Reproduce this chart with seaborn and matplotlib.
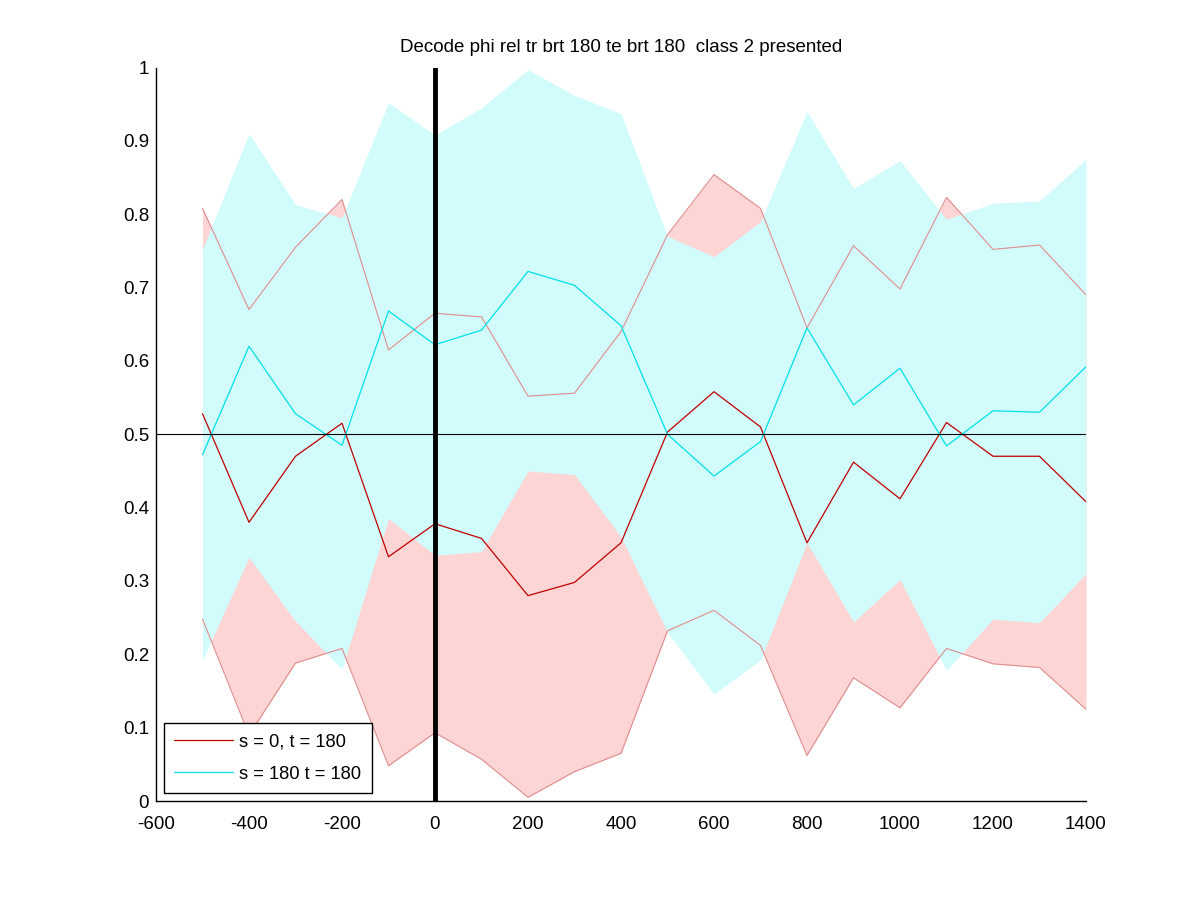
import numpy as np
import pandas as pd
import seaborn as sns
import matplotlib.pyplot as plt

# time points (ms)
times = [-500, -400, -300, -200, -100, 0, 100, 200, 300, 400,
         500, 600, 700, 800, 900, 1000, 1100, 1200, 1300, 1400]

# s = 0, t = 180
red_mean = [0.528, 0.380, 0.470, 0.515, 0.333, 0.378, 0.358, 0.280, 0.298, 0.352,
            0.503, 0.558, 0.510, 0.352, 0.462, 0.412, 0.516, 0.470, 0.470, 0.408]
red_upper = [0.808, 0.670, 0.755, 0.820, 0.615, 0.665, 0.660, 0.552, 0.556, 0.640,
             0.772, 0.854, 0.808, 0.645, 0.757, 0.698, 0.823, 0.752, 0.758, 0.690]
red_lower = [0.248, 0.090, 0.188, 0.208, 0.048, 0.093, 0.057, 0.005, 0.040, 0.065,
             0.232, 0.260, 0.212, 0.062, 0.168, 0.127, 0.208, 0.187, 0.182, 0.125]

# s = 180 t = 180
cyan_mean = [0.472, 0.620, 0.528, 0.485, 0.668, 0.622, 0.642, 0.722, 0.703, 0.648,
             0.500, 0.443, 0.490, 0.645, 0.540, 0.590, 0.484, 0.532, 0.530, 0.592]
cyan_upper = [0.752, 0.910, 0.813, 0.795, 0.952, 0.908, 0.945, 0.997, 0.962, 0.937,
              0.770, 0.742, 0.790, 0.940, 0.835, 0.873, 0.793, 0.815, 0.818, 0.875]
cyan_lower = [0.192, 0.332, 0.245, 0.180, 0.385, 0.335, 0.340, 0.450, 0.445, 0.360,
              0.230, 0.146, 0.192, 0.352, 0.244, 0.302, 0.178, 0.248, 0.243, 0.310]

labels = ['s = 0, t = 180', 's = 180 t = 180']

sns.set_style("white")
plt.rcParams['font.family'] = ['Liberation Sans', 'DejaVu Sans']
plt.rcParams['axes.unicode_minus'] = False
plt.rcParams['text.color'] = 'black'

df = pd.DataFrame({
    'time': times * 2,
    'value': red_mean + cyan_mean,
    'cond': [labels[0]] * len(times) + [labels[1]] * len(times),
})

fig = plt.figure(figsize=(12, 9), dpi=100)
# matlab default axes position
ax = fig.add_axes([0.13, 0.11, 0.775, 0.815])

# bands
ax.fill_between(times, red_lower, red_upper, color='#fdd5d5', linewidth=0, zorder=1)
ax.fill_between(times, cyan_lower, cyan_upper, color='#d2fcfc', linewidth=0, zorder=2)
ax.plot(times, red_upper, color='#e08c8c', lw=0.8, zorder=3)
ax.plot(times, red_lower, color='#e08c8c', lw=0.8, zorder=3)

sns.lineplot(data=df, x='time', y='value', hue='cond',
             palette=['#c00000', '#00e0e8'], linewidth=0.9, ax=ax, zorder=4)

ax.axhline(0.5, color='black', lw=0.8, zorder=5)
ax.axvline(0, color='black', lw=3.5, zorder=6)

ax.set_xlim(-600, 1400)
ax.set_ylim(0, 1)
ax.set_xticks(np.arange(-600, 1401, 200))
ax.set_yticks(np.arange(0, 1.01, 0.1))
ax.set_yticklabels(['0', '0.1', '0.2', '0.3', '0.4', '0.5', '0.6', '0.7', '0.8', '0.9', '1'])
ax.tick_params(direction='in', length=7, width=1, labelsize=13.5, colors='black')
ax.tick_params(axis='x', pad=10.5)
ax.tick_params(axis='y', pad=5)
sns.despine(ax=ax)
for s in ['left', 'bottom']:
    ax.spines[s].set_color('black')
    ax.spines[s].set_linewidth(1)
ax.set_xlabel('')
ax.set_ylabel('')
ax.set_title('Decode phi rel tr brt 180 te brt 180  class 2 presented',
             fontsize=13.5, color='black', pad=11)

leg = ax.legend(loc='lower left', fontsize=13.2, frameon=True, fancybox=False,
                edgecolor='black', framealpha=1, borderaxespad=0.45, handlelength=3.2,
                handletextpad=0.35, labelspacing=0.85, borderpad=0.55)
leg.get_frame().set_linewidth(1)

fig.savefig('out.png', dpi=100)
